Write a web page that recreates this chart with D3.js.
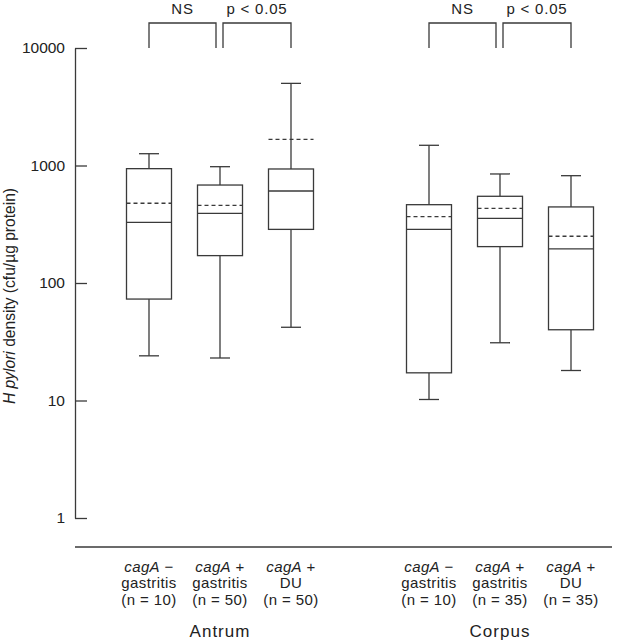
<!DOCTYPE html>
<html>
<head>
<meta charset="utf-8">
<script src="https://cdn.jsdelivr.net/npm/d3@7"></script>
<style>
  html, body { margin: 0; padding: 0; background: #fff; }
  svg text { font-family: "Liberation Sans", Arial, Helvetica, sans-serif; fill: #222; }
</style>
</head>
<body>
<svg id="chart" width="630" height="640"></svg>
<script>
// ---- data ----
const sites = ["Antrum", "Corpus"];
const groups = ["cagA- gastritis", "cagA+ gastritis", "cagA+ DU"];
const groupSign = ["\u2212", "+", "+"];
const groupLine2 = ["gastritis", "gastritis", "DU"];
const nAntrum = [10, 50, 50];
const nCorpus = [10, 35, 35];
// box statistics (cfu/µg protein)
const lowAntrum    = [24, 23, 42];
const q1Antrum     = [73, 171, 286];
const medianAntrum = [328, 392, 607];
const meanAntrum   = [477, 458, 1670];
const q3Antrum     = [940, 682, 934];
const highAntrum   = [1260, 977, 5000];
const lowCorpus    = [10.2, 31, 18];
const q1Corpus     = [17.2, 204, 40];
const medianCorpus = [286, 355, 195];
const meanCorpus   = [367, 432, 250];
const q3Corpus     = [464, 547, 444];
const highCorpus   = [1486, 847, 819];
const yTicks = [1, 10, 100, 1000, 10000];
const comparisons = [["NS", 0, 1], ["p < 0.05", 1, 2]];

const rows = [];
sites.forEach((s, si) => {
  groups.forEach((g, gi) => {
    const A = si === 0;
    rows.push({
      site: s, group: g, gi,
      n: A ? nAntrum[gi] : nCorpus[gi],
      low: A ? lowAntrum[gi] : lowCorpus[gi],
      q1: A ? q1Antrum[gi] : q1Corpus[gi],
      med: A ? medianAntrum[gi] : medianCorpus[gi],
      mean: A ? meanAntrum[gi] : meanCorpus[gi],
      q3: A ? q3Antrum[gi] : q3Corpus[gi],
      high: A ? highAntrum[gi] : highCorpus[gi]
    });
  });
});

const svg = d3.select("#chart");
const stroke = "#3a3a3a";
const sw = 1.3;

const y = d3.scaleLog().domain([1, 10000]).range([518, 48]);
const xSite = d3.scalePoint().domain(sites).range([220, 500]);
const xGroup = d3.scalePoint().domain(groups).range([-71, 71]);
const xc = d => xSite(d.site) + xGroup(d.group);

const boxW = 45, capW = 20;

// y axis
const yAxis = d3.axisLeft(y).tickValues(yTicks).tickFormat(d3.format("d"))
  .tickSizeInner(-12).tickSizeOuter(0).tickPadding(10);
const ga = svg.append("g").attr("transform", "translate(75,0)").call(yAxis);
ga.selectAll("path, line").attr("stroke", stroke).attr("stroke-width", sw);
ga.selectAll("text").attr("font-size", 15.5).attr("fill", "#222")
  .attr("font-family", "Liberation Sans, Arial, sans-serif");

// y label
const yl = svg.append("text")
  .attr("transform", "translate(15,296) rotate(-90)")
  .attr("text-anchor", "middle").attr("font-size", 15.6);
yl.append("tspan").attr("font-style", "italic").text("H pylori");
yl.append("tspan").text(" density (cfu/\u00b5g protein)");

// baseline line
svg.append("line").attr("x1", 75).attr("x2", 612).attr("y1", 547).attr("y2", 547)
  .attr("stroke", stroke).attr("stroke-width", sw);

// boxes
const b = svg.append("g").selectAll("g").data(rows).join("g")
  .attr("fill", "none").attr("stroke", stroke).attr("stroke-width", sw);
b.append("line").attr("x1", xc).attr("x2", xc).attr("y1", d => y(d.q3)).attr("y2", d => y(d.high));
b.append("line").attr("x1", xc).attr("x2", xc).attr("y1", d => y(d.q1)).attr("y2", d => y(d.low));
b.append("line").attr("x1", d => xc(d) - capW / 2).attr("x2", d => xc(d) + capW / 2)
  .attr("y1", d => y(d.high)).attr("y2", d => y(d.high));
b.append("line").attr("x1", d => xc(d) - capW / 2).attr("x2", d => xc(d) + capW / 2)
  .attr("y1", d => y(d.low)).attr("y2", d => y(d.low));
b.append("rect").attr("x", d => xc(d) - boxW / 2).attr("width", boxW)
  .attr("y", d => y(d.q3)).attr("height", d => y(d.q1) - y(d.q3)).attr("fill", "#fff");
b.append("line").attr("x1", d => xc(d) - boxW / 2).attr("x2", d => xc(d) + boxW / 2)
  .attr("y1", d => y(d.med)).attr("y2", d => y(d.med));
b.append("line").attr("x1", d => xc(d) - boxW / 2).attr("x2", d => xc(d) + boxW / 2)
  .attr("y1", d => y(d.mean)).attr("y2", d => y(d.mean)).attr("stroke-dasharray", "4,3");

// comparison brackets
const topY = 23, botY = y(10000);
sites.forEach(s => {
  comparisons.forEach(([lab, a, c]) => {
    let x1 = xSite(s) + xGroup(groups[a]);
    let x2 = xSite(s) + xGroup(groups[c]);
    if (a === 1) x1 += 3;
    if (c === 1) x2 -= 4;
    svg.append("path")
      .attr("d", `M${x1},${botY}V${topY}H${x2}V${botY}`)
      .attr("fill", "none").attr("stroke", stroke).attr("stroke-width", sw);
    svg.append("text").attr("x", (x1 + x2) / 2).attr("y", 14)
      .attr("text-anchor", "middle").attr("font-size", 15)
      .attr("letter-spacing", 0.8).text(lab);
  });
});

// category labels
const lab = svg.append("g").selectAll("text").data(rows).join("text")
  .attr("text-anchor", "middle").attr("font-size", 15).attr("letter-spacing", 0.4);
lab.each(function(d) {
  const t = d3.select(this);
  const x = xc(d);
  const l1 = t.append("tspan").attr("x", x).attr("y", 572);
  l1.append("tspan").attr("font-style", "italic").text("cagA");
  l1.append("tspan").text(" " + groupSign[d.gi]);
  t.append("tspan").attr("x", x).attr("y", 588).text(groupLine2[d.gi]);
  t.append("tspan").attr("x", x).attr("y", 605).text(`(n = ${d.n})`);
});

// site labels
svg.append("g").selectAll("text").data(sites).join("text")
  .attr("x", d => xSite(d)).attr("y", 637).attr("text-anchor", "middle")
  .attr("font-size", 17).attr("letter-spacing", 1).text(d => d);
</script>
</body>
</html>
